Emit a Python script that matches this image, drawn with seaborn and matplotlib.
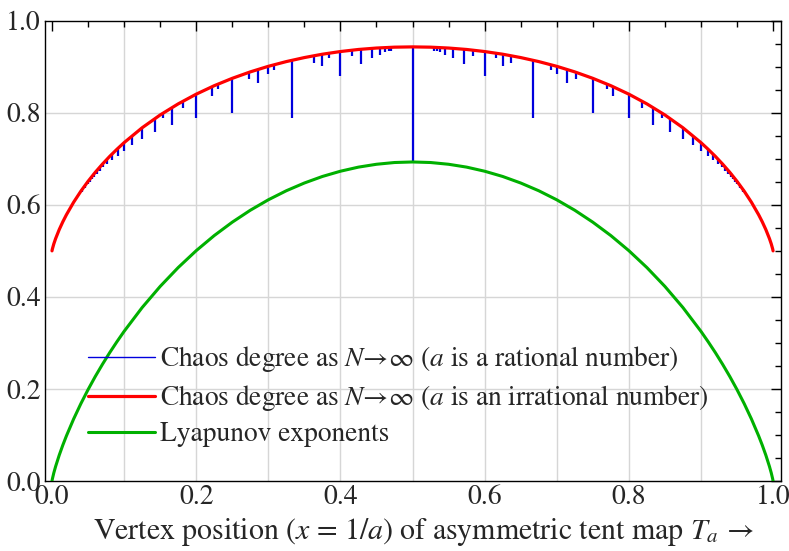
import numpy as np
import pandas as pd
import matplotlib
matplotlib.use("Agg")
import matplotlib.pyplot as plt
import seaborn as sns
from matplotlib.ticker import MultipleLocator, FormatStrFormatter
from matplotlib.lines import Line2D

# ---- data ----
x_vertex = [0.0, 0.0005, 0.0025, 0.005, 0.01, 0.015, 0.02, 0.03, 0.04, 0.05, 0.06, 0.07, 0.08, 0.09,
            0.1, 0.125, 0.15, 0.175, 0.2, 0.225, 0.25, 0.275, 0.3, 0.325, 0.35, 0.375, 0.4, 0.425,
            0.45, 0.475, 0.5, 0.525, 0.55, 0.575, 0.6, 0.625, 0.65, 0.675, 0.7, 0.725, 0.75, 0.775,
            0.8, 0.825, 0.85, 0.875, 0.9, 0.91, 0.92, 0.93, 0.94, 0.95, 0.96, 0.97, 0.98, 0.985,
            0.99, 0.995, 0.9975, 0.9995, 1.0]

chaos_irrational = [0.5000, 0.5038, 0.5150, 0.5265, 0.5461, 0.5631, 0.5784, 0.6056, 0.6295, 0.6510,
                    0.6706, 0.6885, 0.7052, 0.7206, 0.7351, 0.7674, 0.7952, 0.8193, 0.8404, 0.8588,
                    0.8748, 0.8888, 0.9009, 0.9112, 0.9199, 0.9272, 0.9330, 0.9375, 0.9406, 0.9425,
                    0.9431, 0.9425, 0.9406, 0.9375, 0.9330, 0.9272, 0.9199, 0.9112, 0.9009, 0.8888,
                    0.8748, 0.8588, 0.8404, 0.8193, 0.7952, 0.7674, 0.7351, 0.7206, 0.7052, 0.6885,
                    0.6706, 0.6510, 0.6295, 0.6056, 0.5784, 0.5631, 0.5461, 0.5265, 0.5150, 0.5038,
                    0.5000]

lyapunov = [0.0, 0.0043, 0.0175, 0.0315, 0.0560, 0.0779, 0.0980, 0.1347, 0.1679, 0.1985, 0.2270,
            0.2536, 0.2788, 0.3025, 0.3251, 0.3768, 0.4227, 0.4637, 0.5004, 0.5332, 0.5623, 0.5882,
            0.6109, 0.6306, 0.6474, 0.6616, 0.6730, 0.6819, 0.6881, 0.6919, 0.6931, 0.6919, 0.6881,
            0.6819, 0.6730, 0.6616, 0.6474, 0.6306, 0.6109, 0.5882, 0.5623, 0.5332, 0.5004, 0.4637,
            0.4227, 0.3768, 0.3251, 0.3025, 0.2788, 0.2536, 0.2270, 0.1985, 0.1679, 0.1347, 0.0980,
            0.0779, 0.0560, 0.0315, 0.0175, 0.0043, 0.0]

# rational vertex positions: spike from the curve (top) down to the rational chaos degree (bottom)
spike_x = [0.5000, 0.3333, 0.2500, 0.2000, 0.4000, 0.1667, 0.1429, 0.2857, 0.4286, 0.1250,
           0.3750, 0.1111, 0.2222, 0.4444, 0.1000, 0.3000, 0.0909, 0.1818, 0.2727, 0.3636,
           0.4545, 0.0833, 0.4167, 0.0769, 0.1538, 0.2308, 0.3077, 0.3846, 0.4615, 0.4667,
           0.4706, 0.0714, 0.0667, 0.0625, 0.0588, 0.0556, 0.0526, 0.0500, 0.0455, 0.0417,
           0.6667, 0.7500, 0.8000, 0.6000, 0.8333, 0.8571, 0.7143, 0.5714, 0.8750,
           0.6250, 0.8889, 0.7778, 0.5556, 0.9000, 0.7000, 0.9091, 0.8182, 0.7273, 0.6364,
           0.5455, 0.9167, 0.5833, 0.9231, 0.8462, 0.7692, 0.6923, 0.6154, 0.5385, 0.5333,
           0.5294, 0.9286, 0.9333, 0.9375, 0.9412, 0.9444, 0.9474, 0.9500, 0.9545, 0.9583]
spike_top = [0.9431, 0.9143, 0.8748, 0.8404, 0.9330, 0.8117, 0.7877, 0.8942, 0.9380, 0.7674,
             0.9272, 0.7500, 0.8569, 0.9400, 0.7351, 0.9009, 0.7220, 0.8254, 0.8876, 0.9241,
             0.9411, 0.7104, 0.9361, 0.7002, 0.7991, 0.8627, 0.9042, 0.9296, 0.9417, 0.9420,
             0.9423, 0.6910, 0.6827, 0.6752, 0.6684, 0.6621, 0.6563, 0.6510, 0.6415, 0.6333,
             0.9143, 0.8748, 0.8404, 0.9330, 0.8117, 0.7877, 0.8942, 0.9380, 0.7674,
             0.9272, 0.7500, 0.8569, 0.9400, 0.7351, 0.9009, 0.7220, 0.8254, 0.8876, 0.9241,
             0.9411, 0.7104, 0.9361, 0.7002, 0.7991, 0.8627, 0.9042, 0.9296, 0.9417, 0.9420,
             0.9423, 0.6910, 0.6827, 0.6752, 0.6684, 0.6621, 0.6563, 0.6510, 0.6415, 0.6333]
spike_bottom = [0.693, 0.788, 0.799, 0.788, 0.879, 0.774, 0.759, 0.864, 0.9065, 0.743,
                0.902, 0.730, 0.837, 0.919, 0.718, 0.884, 0.707, 0.810, 0.873, 0.909,
                0.926, 0.698, 0.924, 0.689, 0.788, 0.852, 0.893, 0.919, 0.931, 0.934,
                0.935, 0.6815, 0.6742, 0.6674, 0.6612, 0.6555, 0.6501, 0.6452, 0.6365, 0.6288,
                0.788, 0.799, 0.788, 0.879, 0.774, 0.759, 0.864, 0.9065, 0.743,
                0.902, 0.730, 0.837, 0.919, 0.718, 0.884, 0.707, 0.810, 0.873, 0.909,
                0.926, 0.698, 0.924, 0.689, 0.788, 0.852, 0.893, 0.919, 0.931, 0.934,
                0.935, 0.6815, 0.6742, 0.6674, 0.6612, 0.6555, 0.6501, 0.6452, 0.6365, 0.6288]

x_ticks = [0.0, 0.2, 0.4, 0.6, 0.8, 1.0]
y_ticks = [0.0, 0.2, 0.4, 0.6, 0.8, 1.0]

labels = ["Chaos degree as $N$\u2192\u221e ($a$ is a rational number)",
          "Chaos degree as $N$\u2192\u221e ($a$ is an irrational number)",
          "Lyapunov exponents"]

# ---- style ----
sns.set_style("white")
plt.rcParams['font.family'] = ['STIXGeneral', 'Liberation Serif', 'DejaVu Serif']
plt.rcParams['mathtext.fontset'] = 'stix'

BLUE = '#0000dd'
RED = '#ff0000'
GREEN = '#00b000'

fig = plt.figure(figsize=(7.89, 5.51), dpi=100)
ax = fig.add_axes([45 / 789, 70 / 551, 736 / 789, 460.3 / 551])

df = pd.DataFrame({'x': x_vertex, 'chaos': chaos_irrational, 'lyap': lyapunov})

# grid
for gx in [0.1, 0.2, 0.3, 0.4, 0.5, 0.6, 0.7, 0.8, 0.9]:
    ax.axvline(gx, color='#d6d6d6', lw=1.0, zorder=0)
for gy in [0.2, 0.4, 0.6, 0.8]:
    ax.axhline(gy, color='#d6d6d6', lw=1.0, zorder=0)

ax.vlines(spike_x, spike_bottom, spike_top, color=BLUE, lw=1.6, zorder=2)
sns.lineplot(data=df, x='x', y='chaos', color=BLUE, lw=1.0, ax=ax, zorder=2)
sns.lineplot(data=df, x='x', y='chaos', color=RED, lw=2.3, ax=ax, zorder=3)
sns.lineplot(data=df, x='x', y='lyap', color=GREEN, lw=2.2, ax=ax, zorder=3)

ax.set_xlim(-0.0097, 1.011)
ax.set_ylim(0.0, 1.0)
ax.set_xticks(x_ticks)
ax.set_yticks(y_ticks)
ax.xaxis.set_minor_locator(MultipleLocator(0.05))
ax.yaxis.set_minor_locator(MultipleLocator(0.05))
ax.xaxis.set_major_formatter(FormatStrFormatter('%.1f'))
ax.yaxis.set_major_formatter(FormatStrFormatter('%.1f'))
ax.tick_params(which='major', direction='in', top=True, right=True, length=7, width=1,
               labelsize=20, color='black', pad=3)
ax.tick_params(which='minor', direction='in', top=True, right=True, length=4, width=1,
               color='black')
for s in ax.spines.values():
    s.set_color('black')
    s.set_linewidth(1.0)

ax.set_ylabel('')
ax.set_xlabel("Vertex position ($x$ = 1/$a$) of asymmetric tent map $T_a$ \u2192",
              fontsize=21.5, labelpad=4)
ax.xaxis.label.set_x(0.5136)

handles = [Line2D([], [], color=BLUE, lw=1.0),
           Line2D([], [], color=RED, lw=2.3),
           Line2D([], [], color=GREEN, lw=2.2)]
ax.legend(handles, labels, loc='lower left', bbox_to_anchor=(0.0584, 0.073), frameon=False,
          fontsize=19.7, handlelength=2.45, handletextpad=0.2, labelspacing=0.33,
          borderpad=0, borderaxespad=0)

fig.savefig('out.png', dpi=100)
